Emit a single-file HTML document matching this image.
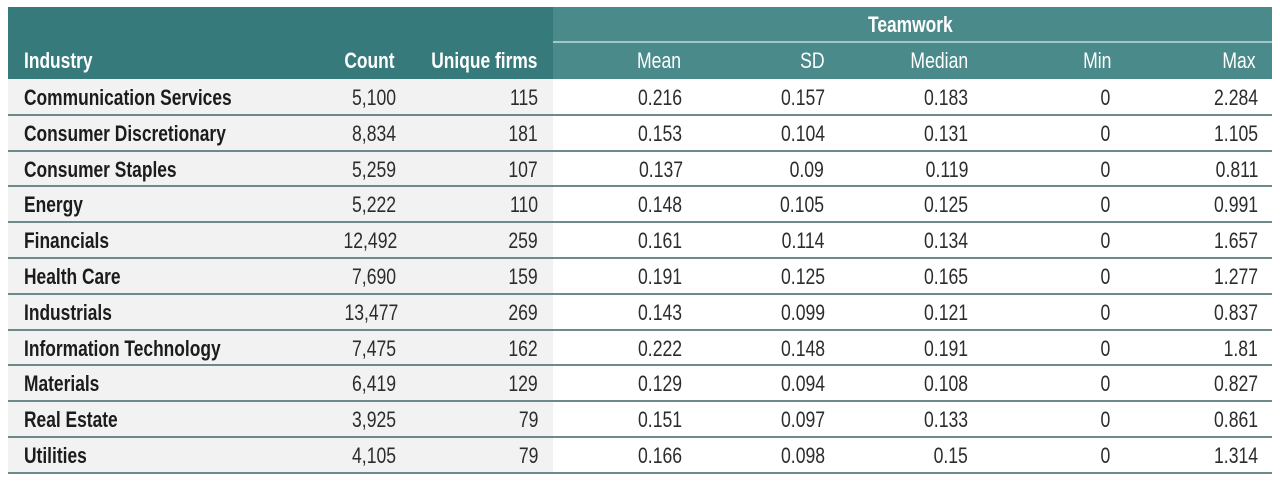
<!DOCTYPE html>
<html>
<head>
<meta charset="utf-8">
<style>
  html,body{margin:0;padding:0;background:#fff;}
  body{width:1280px;height:482px;position:relative;overflow:hidden;font-family:"Liberation Sans",sans-serif;}
  .bx{position:absolute;}
  .t{position:absolute;white-space:nowrap;font-size:22px;}
  .l{transform-origin:left center;}
  .r{transform-origin:right center;}
  .b{font-weight:bold;transform:scaleX(0.79);}
  .n{font-weight:normal;transform:scaleX(0.8);}
  .hdr{color:#fff;}
  .ind{color:#1c1c1c;}
  .num{color:#2c2c2c;}
  .ln{position:absolute;left:8px;width:1264px;height:2px;background:#6f8a8c;}
</style>
</head>
<body>
<!-- header backgrounds -->
<div class="bx" style="left:8px;top:7px;width:545px;height:72px;background:#367a7b;"></div>
<div class="bx" style="left:553px;top:7px;width:719px;height:72px;background:#4b8a8b;"></div>
<div class="bx" style="left:553px;top:41px;width:719px;height:2px;background:#a3c6c6;"></div>
<!-- body left background -->
<div class="bx" style="left:8px;top:79px;width:545px;height:394px;background:#f2f2f2;"></div>

<!-- header text -->
<div class="t hdr b" style="left:868px;top:7px;height:35px;line-height:35px;transform-origin:left center;">Teamwork</div>
<div class="t hdr b l" style="left:24px;top:42px;height:37px;line-height:37px;">Industry</div>
<div class="t hdr b r" style="right:885px;top:42px;height:37px;line-height:37px;">Count</div>
<div class="t hdr b r" style="right:743px;top:42px;height:37px;line-height:37px;">Unique firms</div>
<div class="t hdr n r" style="right:599px;top:42px;height:37px;line-height:37px;">Mean</div>
<div class="t hdr n r" style="right:455px;top:42px;height:37px;line-height:37px;">SD</div>
<div class="t hdr n r" style="right:312px;top:42px;height:37px;line-height:37px;">Median</div>
<div class="t hdr n r" style="right:169px;top:42px;height:37px;line-height:37px;">Min</div>
<div class="t hdr n r" style="right:24px;top:42px;height:37px;line-height:37px;">Max</div>

<!-- row lines -->
<div class="ln" style="top:113.8px;"></div>
<div class="ln" style="top:149.6px;"></div>
<div class="ln" style="top:185.4px;"></div>
<div class="ln" style="top:221.2px;"></div>
<div class="ln" style="top:257px;"></div>
<div class="ln" style="top:292.8px;"></div>
<div class="ln" style="top:328.6px;"></div>
<div class="ln" style="top:364.4px;"></div>
<div class="ln" style="top:400.2px;"></div>
<div class="ln" style="top:436px;"></div>
<div class="ln" style="top:471.5px;"></div>

<!-- Row 1 -->
<div class="t ind b l" style="left:24px;top:80px;line-height:35.8px;">Communication Services</div>
<div class="t num n r" style="right:884px;top:80px;line-height:35.8px;">5,100</div>
<div class="t num n r" style="right:742px;top:80px;line-height:35.8px;">115</div>
<div class="t num n r" style="right:598px;top:80px;line-height:35.8px;">0.216</div>
<div class="t num n r" style="right:455px;top:80px;line-height:35.8px;">0.157</div>
<div class="t num n r" style="right:312px;top:80px;line-height:35.8px;">0.183</div>
<div class="t num n r" style="right:170px;top:80px;line-height:35.8px;">0</div>
<div class="t num n r" style="right:22px;top:80px;line-height:35.8px;">2.284</div>

<!-- Row 2 -->
<div class="t ind b l" style="left:24px;top:115.8px;line-height:35.8px;">Consumer Discretionary</div>
<div class="t num n r" style="right:884px;top:115.8px;line-height:35.8px;">8,834</div>
<div class="t num n r" style="right:742px;top:115.8px;line-height:35.8px;">181</div>
<div class="t num n r" style="right:598px;top:115.8px;line-height:35.8px;">0.153</div>
<div class="t num n r" style="right:455px;top:115.8px;line-height:35.8px;">0.104</div>
<div class="t num n r" style="right:312px;top:115.8px;line-height:35.8px;">0.131</div>
<div class="t num n r" style="right:170px;top:115.8px;line-height:35.8px;">0</div>
<div class="t num n r" style="right:22px;top:115.8px;line-height:35.8px;">1.105</div>

<!-- Row 3 -->
<div class="t ind b l" style="left:24px;top:151.6px;line-height:35.8px;">Consumer Staples</div>
<div class="t num n r" style="right:884px;top:151.6px;line-height:35.8px;">5,259</div>
<div class="t num n r" style="right:742px;top:151.6px;line-height:35.8px;">107</div>
<div class="t num n r" style="right:597px;top:151.6px;line-height:35.8px;">0.137</div>
<div class="t num n r" style="right:456px;top:151.6px;line-height:35.8px;">0.09</div>
<div class="t num n r" style="right:312px;top:151.6px;line-height:35.8px;">0.119</div>
<div class="t num n r" style="right:170px;top:151.6px;line-height:35.8px;">0</div>
<div class="t num n r" style="right:22px;top:151.6px;line-height:35.8px;">0.811</div>

<!-- Row 4 -->
<div class="t ind b l" style="left:24px;top:187.4px;line-height:35.8px;">Energy</div>
<div class="t num n r" style="right:884px;top:187.4px;line-height:35.8px;">5,222</div>
<div class="t num n r" style="right:742px;top:187.4px;line-height:35.8px;">110</div>
<div class="t num n r" style="right:598px;top:187.4px;line-height:35.8px;">0.148</div>
<div class="t num n r" style="right:456px;top:187.4px;line-height:35.8px;">0.105</div>
<div class="t num n r" style="right:312px;top:187.4px;line-height:35.8px;">0.125</div>
<div class="t num n r" style="right:170px;top:187.4px;line-height:35.8px;">0</div>
<div class="t num n r" style="right:22px;top:187.4px;line-height:35.8px;">0.991</div>

<!-- Row 5 -->
<div class="t ind b l" style="left:24px;top:223.2px;line-height:35.8px;">Financials</div>
<div class="t num n r" style="right:883px;top:223.2px;line-height:35.8px;">12,492</div>
<div class="t num n r" style="right:742px;top:223.2px;line-height:35.8px;">259</div>
<div class="t num n r" style="right:598px;top:223.2px;line-height:35.8px;">0.161</div>
<div class="t num n r" style="right:456px;top:223.2px;line-height:35.8px;">0.114</div>
<div class="t num n r" style="right:312px;top:223.2px;line-height:35.8px;">0.134</div>
<div class="t num n r" style="right:170px;top:223.2px;line-height:35.8px;">0</div>
<div class="t num n r" style="right:22px;top:223.2px;line-height:35.8px;">1.657</div>

<!-- Row 6 -->
<div class="t ind b l" style="left:24px;top:259px;line-height:35.8px;">Health Care</div>
<div class="t num n r" style="right:884px;top:259px;line-height:35.8px;">7,690</div>
<div class="t num n r" style="right:742px;top:259px;line-height:35.8px;">159</div>
<div class="t num n r" style="right:598px;top:259px;line-height:35.8px;">0.191</div>
<div class="t num n r" style="right:455px;top:259px;line-height:35.8px;">0.125</div>
<div class="t num n r" style="right:312px;top:259px;line-height:35.8px;">0.165</div>
<div class="t num n r" style="right:170px;top:259px;line-height:35.8px;">0</div>
<div class="t num n r" style="right:22px;top:259px;line-height:35.8px;">1.277</div>

<!-- Row 7 -->
<div class="t ind b l" style="left:24px;top:294.8px;line-height:35.8px;">Industrials</div>
<div class="t num n r" style="right:882px;top:294.8px;line-height:35.8px;">13,477</div>
<div class="t num n r" style="right:742px;top:294.8px;line-height:35.8px;">269</div>
<div class="t num n r" style="right:598px;top:294.8px;line-height:35.8px;">0.143</div>
<div class="t num n r" style="right:455px;top:294.8px;line-height:35.8px;">0.099</div>
<div class="t num n r" style="right:312px;top:294.8px;line-height:35.8px;">0.121</div>
<div class="t num n r" style="right:170px;top:294.8px;line-height:35.8px;">0</div>
<div class="t num n r" style="right:22px;top:294.8px;line-height:35.8px;">0.837</div>

<!-- Row 8 -->
<div class="t ind b l" style="left:24px;top:330.6px;line-height:35.8px;">Information Technology</div>
<div class="t num n r" style="right:884px;top:330.6px;line-height:35.8px;">7,475</div>
<div class="t num n r" style="right:742px;top:330.6px;line-height:35.8px;">162</div>
<div class="t num n r" style="right:598px;top:330.6px;line-height:35.8px;">0.222</div>
<div class="t num n r" style="right:455px;top:330.6px;line-height:35.8px;">0.148</div>
<div class="t num n r" style="right:312px;top:330.6px;line-height:35.8px;">0.191</div>
<div class="t num n r" style="right:170px;top:330.6px;line-height:35.8px;">0</div>
<div class="t num n r" style="right:22px;top:330.6px;line-height:35.8px;">1.81</div>

<!-- Row 9 -->
<div class="t ind b l" style="left:24px;top:366.4px;line-height:35.8px;">Materials</div>
<div class="t num n r" style="right:884px;top:366.4px;line-height:35.8px;">6,419</div>
<div class="t num n r" style="right:742px;top:366.4px;line-height:35.8px;">129</div>
<div class="t num n r" style="right:598px;top:366.4px;line-height:35.8px;">0.129</div>
<div class="t num n r" style="right:455px;top:366.4px;line-height:35.8px;">0.094</div>
<div class="t num n r" style="right:312px;top:366.4px;line-height:35.8px;">0.108</div>
<div class="t num n r" style="right:170px;top:366.4px;line-height:35.8px;">0</div>
<div class="t num n r" style="right:22px;top:366.4px;line-height:35.8px;">0.827</div>

<!-- Row 10 -->
<div class="t ind b l" style="left:24px;top:402.2px;line-height:35.8px;">Real Estate</div>
<div class="t num n r" style="right:884px;top:402.2px;line-height:35.8px;">3,925</div>
<div class="t num n r" style="right:742px;top:402.2px;line-height:35.8px;">79</div>
<div class="t num n r" style="right:598px;top:402.2px;line-height:35.8px;">0.151</div>
<div class="t num n r" style="right:455px;top:402.2px;line-height:35.8px;">0.097</div>
<div class="t num n r" style="right:312px;top:402.2px;line-height:35.8px;">0.133</div>
<div class="t num n r" style="right:170px;top:402.2px;line-height:35.8px;">0</div>
<div class="t num n r" style="right:22px;top:402.2px;line-height:35.8px;">0.861</div>

<!-- Row 11 -->
<div class="t ind b l" style="left:24px;top:438px;line-height:35.8px;">Utilities</div>
<div class="t num n r" style="right:884px;top:438px;line-height:35.8px;">4,105</div>
<div class="t num n r" style="right:742px;top:438px;line-height:35.8px;">79</div>
<div class="t num n r" style="right:598px;top:438px;line-height:35.8px;">0.166</div>
<div class="t num n r" style="right:455px;top:438px;line-height:35.8px;">0.098</div>
<div class="t num n r" style="right:312px;top:438px;line-height:35.8px;">0.15</div>
<div class="t num n r" style="right:170px;top:438px;line-height:35.8px;">0</div>
<div class="t num n r" style="right:22px;top:438px;line-height:35.8px;">1.314</div>
</body>
</html>
